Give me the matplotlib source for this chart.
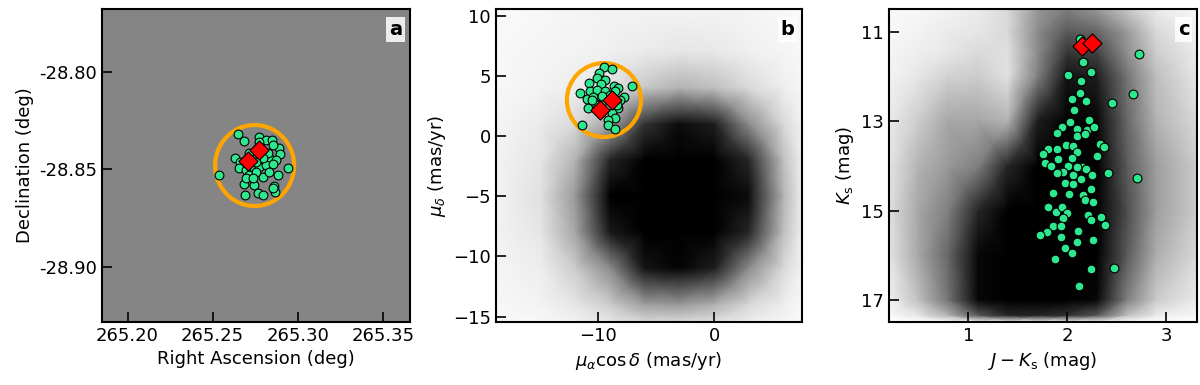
import matplotlib
matplotlib.use("Agg")
import matplotlib.pyplot as plt
import numpy as np
from matplotlib.patches import Ellipse

# ---- panel a: sky positions of members ----
ra_members = [265.2651, 265.2538, 265.2941, 265.2686, 265.2771, 265.2814, 265.2849, 265.2775,
              265.2888, 265.2853, 265.2896, 265.2634, 265.2661, 265.2834, 265.2873, 265.2657,
              265.2696, 265.2735, 265.2775, 265.2814, 265.2853, 265.2716, 265.2794, 265.2834,
              265.2882, 265.2686, 265.2745, 265.2692, 265.2765, 265.2794, 265.2863, 265.2869,
              265.2853, 265.2755, 265.2824, 265.2794, 265.2716, 265.2696, 265.2735, 265.2755]
dec_members = [-28.8319, -28.8531, -28.8495, -28.8354, -28.8333, -28.8350, -28.8350, -28.8362,
               -28.8389, -28.8376, -28.8422, -28.8441, -28.8461, -28.8444, -28.8452, -28.8492,
               -28.8504, -28.8487, -28.8487, -28.8478, -28.8474, -28.8529, -28.8538, -28.8512,
               -28.8526, -28.8577, -28.8580, -28.8632, -28.8620, -28.8632, -28.8585, -28.8615,
               -28.8597, -28.8512, -28.8418, -28.8444, -28.8418, -28.8546, -28.8546, -28.8461]
ra_special = [265.2775, 265.2710]
dec_special = [-28.8401, -28.8458]
sky_circle = (265.2747, -28.848, 0.0232, 0.0207)   # centre, semi-axes (deg)

# field density (0 = empty, 1 = black), panel a is uniform
ra_grid = [265.185, 265.275, 265.366]
dec_grid = [-28.928, -28.848, -28.768]
sky_density = [[0.48, 0.48, 0.48],
               [0.48, 0.48, 0.48],
               [0.48, 0.48, 0.48]]

# ---- panel b: proper motions ----
pmra_members = [-9.51, -8.84, -9.91, -10.09, -9.42, -10.78, -9.79, -8.62, -8.27, -7.11,
                -11.58, -10.72, -10.14, -9.42, -8.56, -7.75, -11.00, -10.43, -10.86, -10.29,
                -9.57, -8.12, -8.27, -8.84, -8.56, -9.14, -9.14, -8.56, -11.38, -10.00,
                -9.00, -9.70, -8.40, -10.50]
pmdec_members = [5.73, 5.59, 5.23, 4.82, 4.68, 4.40, 4.34, 4.13, 3.99, 4.13,
                 3.57, 3.71, 3.85, 3.71, 3.71, 3.21, 3.10, 3.21, 2.33, 2.74,
                 2.88, 3.01, 2.33, 1.91, 1.50, 1.35, 0.94, 0.58, 0.94, 2.60,
                 3.40, 3.30, 2.60, 3.00]
pmra_special = [-8.84, -9.85]
pmdec_special = [3.01, 2.18]
pm_circle = (-9.51, 2.99, 3.2, 3.07)

pmra_grid = [-18.84, -15, -12, -9, -6, -3, 0, 3, 6, 7.6]
pmdec_grid = [10.55, 7, 4, 1, -2, -5, -8, -11, -14, -15.45]
pm_density = [
    [0.02, 0.03, 0.04, 0.05, 0.05, 0.05, 0.05, 0.04, 0.03, 0.02],
    [0.03, 0.04, 0.05, 0.06, 0.08, 0.10, 0.09, 0.06, 0.04, 0.03],
    [0.03, 0.05, 0.07, 0.12, 0.22, 0.30, 0.25, 0.15, 0.07, 0.04],
    [0.04, 0.08, 0.15, 0.35, 0.80, 0.95, 0.88, 0.45, 0.15, 0.05],
    [0.05, 0.10, 0.30, 0.85, 1.00, 1.00, 1.00, 0.85, 0.25, 0.06],
    [0.05, 0.12, 0.40, 1.00, 1.00, 1.00, 1.00, 0.95, 0.30, 0.07],
    [0.05, 0.10, 0.35, 0.90, 1.00, 1.00, 1.00, 0.85, 0.25, 0.06],
    [0.04, 0.07, 0.20, 0.45, 0.92, 0.98, 0.88, 0.45, 0.15, 0.05],
    [0.03, 0.05, 0.10, 0.20, 0.38, 0.40, 0.32, 0.16, 0.07, 0.03],
    [0.02, 0.03, 0.05, 0.10, 0.15, 0.15, 0.12, 0.07, 0.04, 0.02],
]

# ---- panel c: colour-magnitude diagram ----
jk_members = [2.128, 2.727, 2.162, 2.010, 2.239, 2.135, 2.667, 2.128, 2.044, 2.189,
              2.452, 2.071, 2.222, 2.027, 1.943, 2.101, 2.196, 2.273, 1.893, 2.095,
              2.179, 1.808, 1.899, 1.987, 2.061, 2.330, 2.371,
              1.752, 2.095, 2.297, 1.775, 1.835, 1.909, 2.044, 2.010, 1.960, 1.893,
              2.061, 2.145, 2.189, 2.095, 2.138, 2.246, 2.414, 2.701, 1.977, 2.055,
              2.239, 1.859, 2.020, 2.162, 2.179, 2.257, 1.808, 1.886, 1.943, 1.994,
              1.954, 2.212, 2.239, 2.340, 2.381, 1.853, 1.933, 1.792, 1.724, 2.111,
              1.933, 2.095, 2.263, 1.977, 2.047, 1.876, 2.239, 2.472, 2.121]
ks_members = [11.150, 11.501, 11.673, 11.955, 11.897, 12.105, 12.380, 12.358, 12.492, 12.553,
              12.582, 12.754, 12.978, 13.016, 13.128, 13.163, 13.186, 13.128, 13.262, 13.336,
              13.291, 13.611, 13.611, 13.537, 13.559, 13.515, 13.575,
              13.723, 13.687, 13.783, 13.933, 14.007, 13.850, 13.812, 14.007, 14.134, 14.157,
              14.208, 14.022, 14.058, 14.022, 14.282, 14.208, 14.148, 14.260, 14.380, 14.394,
              14.506, 14.595, 14.633, 14.655, 14.767, 14.805, 14.917, 15.029, 14.917, 15.051,
              15.163, 15.103, 15.215, 15.141, 15.327, 15.349, 15.349, 15.477, 15.535, 15.454,
              15.588, 15.700, 15.662, 15.826, 15.946, 16.087, 16.311, 16.273, 16.691]
jk_special = [2.152, 2.246]
ks_special = [11.316, 11.239]

jk_grid = [0.2, 0.5, 0.8, 1.1, 1.4, 1.7, 2.0, 2.3, 2.6, 2.9, 3.31]
ks_grid = [10.49, 11.0, 11.5, 12.0, 13.0, 14.0, 15.0, 16.0, 17.0, 17.35, 17.49]
cmd_density = [
    [0.02, 0.03, 0.05, 0.08, 0.15, 0.40, 0.50, 0.40, 0.22, 0.08, 0.03],
    [0.03, 0.05, 0.08, 0.10, 0.15, 0.45, 0.65, 0.60, 0.40, 0.15, 0.05],
    [0.04, 0.07, 0.10, 0.15, 0.12, 0.45, 0.80, 0.75, 0.45, 0.20, 0.08],
    [0.05, 0.10, 0.18, 0.20, 0.12, 0.50, 0.92, 0.88, 0.55, 0.25, 0.10],
    [0.08, 0.20, 0.35, 0.35, 0.30, 0.88, 1.00, 0.97, 0.60, 0.30, 0.15],
    [0.10, 0.30, 0.40, 0.50, 0.85, 1.00, 1.00, 1.00, 0.65, 0.38, 0.20],
    [0.12, 0.35, 0.50, 0.85, 1.00, 1.00, 1.00, 1.00, 0.70, 0.38, 0.20],
    [0.10, 0.35, 0.60, 0.97, 1.00, 1.00, 1.00, 1.00, 0.65, 0.32, 0.15],
    [0.05, 0.25, 0.55, 0.97, 1.00, 1.00, 1.00, 0.97, 0.50, 0.20, 0.08],
    [0.02, 0.10, 0.30, 0.65, 0.85, 0.85, 0.80, 0.65, 0.25, 0.08, 0.03],
    [0.00, 0.00, 0.00, 0.00, 0.00, 0.00, 0.00, 0.00, 0.00, 0.00, 0.00],
]

GREEN = '#2ee88f'
RED = '#ff0000'
ORANGE = '#ffa500'

plt.rcParams['font.size'] = 13
plt.rcParams['axes.linewidth'] = 1.5


def style_axes(ax, label):
    ax.tick_params(direction='in', length=7, width=1.2, labelsize=13,
                   top=False, right=False)
    ax.text(0.975, 0.965, label, transform=ax.transAxes, ha='right', va='top',
            fontsize=14, fontweight='bold',
            bbox=dict(boxstyle='square,pad=0.15', fc='white', ec='none', alpha=0.85))


def draw_field(ax, xg, yg, dens):
    ax.pcolormesh(xg, yg, np.array(dens), cmap='gray_r', vmin=0, vmax=1,
                  shading='gouraud', zorder=0, rasterized=True)


def draw_members(ax, x, y, xs, ys, circle=None):
    if circle is not None:
        cx, cy, rx, ry = circle
        ax.add_patch(Ellipse((cx, cy), 2 * rx, 2 * ry, fill=False,
                             ec=ORANGE, lw=3, zorder=2))
    ax.scatter(x, y, s=40, c=GREEN, edgecolors='black', linewidths=0.8, zorder=3)
    ax.scatter(xs, ys, s=95, marker='D', c=RED, edgecolors='black',
               linewidths=0.8, zorder=4)


fig = plt.figure(figsize=(12, 3.85), dpi=100)
ax_a = fig.add_axes([0.085, 0.1636, 0.2567, 0.813])
ax_b = fig.add_axes([0.4133, 0.1636, 0.255, 0.813])
ax_c = fig.add_axes([0.7408, 0.1636, 0.2567, 0.813])

# a
draw_field(ax_a, ra_grid, dec_grid, sky_density)
draw_members(ax_a, ra_members, dec_members, ra_special, dec_special, sky_circle)
ax_a.set_xlim(265.185, 265.366)
ax_a.set_ylim(-28.928, -28.768)
ax_a.set_xticks([265.20, 265.25, 265.30, 265.35])
ax_a.set_xticklabels(['265.20', '265.25', '265.30', '265.35'])
ax_a.set_yticks([-28.90, -28.85, -28.80])
ax_a.set_yticklabels(['-28.90', '-28.85', '-28.80'])
ax_a.set_xlabel('Right Ascension (deg)')
ax_a.set_ylabel('Declination (deg)')
style_axes(ax_a, 'a')

# b
draw_field(ax_b, pmra_grid, pmdec_grid, pm_density)
draw_members(ax_b, pmra_members, pmdec_members, pmra_special, pmdec_special, pm_circle)
ax_b.set_xlim(-18.84, 7.6)
ax_b.set_ylim(-15.45, 10.55)
ax_b.set_xticks([-10, 0])
ax_b.set_yticks([-15, -10, -5, 0, 5, 10])
ax_b.set_xlabel(r'$\mu_{\alpha}\cos\delta$ (mas/yr)')
ax_b.set_ylabel(r'$\mu_{\delta}$ (mas/yr)')
style_axes(ax_b, 'b')

# c
draw_field(ax_c, jk_grid, ks_grid, cmd_density)
draw_members(ax_c, jk_members, ks_members, jk_special, ks_special)
ax_c.set_xlim(0.2, 3.31)
ax_c.set_ylim(17.49, 10.49)
ax_c.set_xticks([1, 2, 3])
ax_c.set_yticks([11, 13, 15, 17])
ax_c.set_xlabel(r'$J - K_{\mathrm{s}}$ (mag)')
ax_c.set_ylabel(r'$K_{\mathrm{s}}$ (mag)')
style_axes(ax_c, 'c')

fig.savefig('out.png', dpi=100)
